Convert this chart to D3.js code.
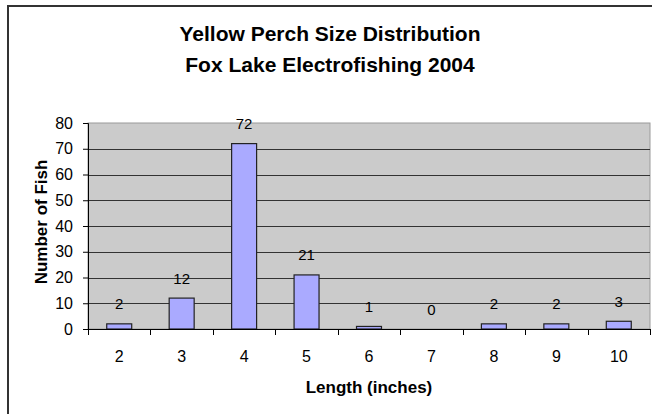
<!DOCTYPE html>
<html><head><meta charset="utf-8">
<script src="https://cdn.jsdelivr.net/npm/d3@7"></script>
<style>
html,body{margin:0;padding:0;background:#fff;}
text{font-family:"Liberation Sans",Arial,sans-serif;fill:#000;}
</style></head>
<body>
<svg id="chart" width="652" height="414"></svg>
<script>
const categories = ["2","3","4","5","6","7","8","9","10"];
const counts = [2,12,72,21,1,0,2,2,3];
const yTicks = [0,10,20,30,40,50,60,70,80];
const titleLines = ["Yellow Perch Size Distribution","Fox Lake Electrofishing 2004"];
const xTitle = "Length (inches)";
const yTitle = "Number of Fish";

const svg = d3.select("#chart");
const m = {left:88, right:650, top:123, bottom:329};

// outer frame (cut off at right/bottom like the reference)
svg.append("path")
  .attr("d", `M8,420 L8,6 L660,6`)
  .attr("fill","none").attr("stroke","#333").attr("stroke-width",2);

const x = d3.scaleBand().domain(categories).range([m.left,m.right]).paddingInner(0).paddingOuter(0);
const y = d3.scaleLinear().domain([0,80]).range([m.bottom,m.top]);

// plot area
svg.append("rect").attr("x",m.left).attr("y",m.top)
  .attr("width",m.right-m.left).attr("height",m.bottom-m.top)
  .attr("fill","#cbcbcb").attr("stroke","#9a9a9a").attr("stroke-width",1);

// gridlines
svg.append("g").selectAll("line").data(yTicks.filter(t=>t>0 && t<80)).join("line")
  .attr("x1",m.left).attr("x2",m.right)
  .attr("y1",d=>Math.round(y(d))+0.5).attr("y2",d=>Math.round(y(d))+0.5)
  .attr("stroke","#333").attr("stroke-width",1);

// bars
svg.append("g").selectAll("rect").data(counts).join("rect")
  .attr("x",(d,i)=>x(categories[i])+x.bandwidth()*0.3)
  .attr("width",x.bandwidth()*0.4)
  .attr("y",d=>y(d))
  .attr("height",d=>y(0)-y(d))
  .attr("fill","#aaaaff").attr("stroke","#222").attr("stroke-width",1.2);

// data labels
svg.append("g").selectAll("text").data(counts).join("text")
  .attr("x",(d,i)=>x(categories[i])+x.bandwidth()/2)
  .attr("y",d=>y(d)-14.5)
  .attr("text-anchor","middle").attr("font-size",15)
  .text(d=>d);

// y axis
const yAxis = d3.axisLeft(y).tickValues(yTicks).tickSize(5).tickPadding(10);
const gy = svg.append("g").attr("transform",`translate(${m.left},0)`).call(yAxis);
gy.select(".domain").attr("stroke","#000");
gy.selectAll(".tick line").attr("stroke","#000");
gy.selectAll(".tick text").attr("font-size",16).attr("font-family","Liberation Sans, Arial, sans-serif").attr("fill","#000");

// x axis with ticks at band boundaries
const gx = svg.append("g").attr("transform",`translate(0,${m.bottom})`);
gx.append("line").attr("x1",m.left).attr("x2",m.right).attr("y1",0.5).attr("y2",0.5).attr("stroke","#000");
const bounds = categories.map(c=>x(c)).concat([x(categories[categories.length-1])+x.bandwidth()]);
gx.selectAll("line.tk").data(bounds).join("line").attr("class","tk")
  .attr("x1",d=>Math.round(d)+0.5).attr("x2",d=>Math.round(d)+0.5).attr("y1",0).attr("y2",6).attr("stroke","#000");
gx.selectAll("text").data(categories).join("text")
  .attr("x",d=>x(d)+x.bandwidth()/2).attr("y",33)
  .attr("text-anchor","middle").attr("font-size",16).text(d=>d);

// titles
svg.append("g").selectAll("text").data(titleLines).join("text")
  .attr("x",330).attr("y",(d,i)=>41+i*31)
  .attr("text-anchor","middle").attr("font-size",21).attr("font-weight","bold")
  .text(d=>d);

svg.append("text").attr("x",(m.left+m.right)/2).attr("y",393)
  .attr("text-anchor","middle").attr("font-size",17).attr("font-weight","bold").text(xTitle);

svg.append("text").attr("transform",`translate(47,222) rotate(-90)`)
  .attr("text-anchor","middle").attr("font-size",17).attr("font-weight","bold").text(yTitle);
</script>
</body></html>
